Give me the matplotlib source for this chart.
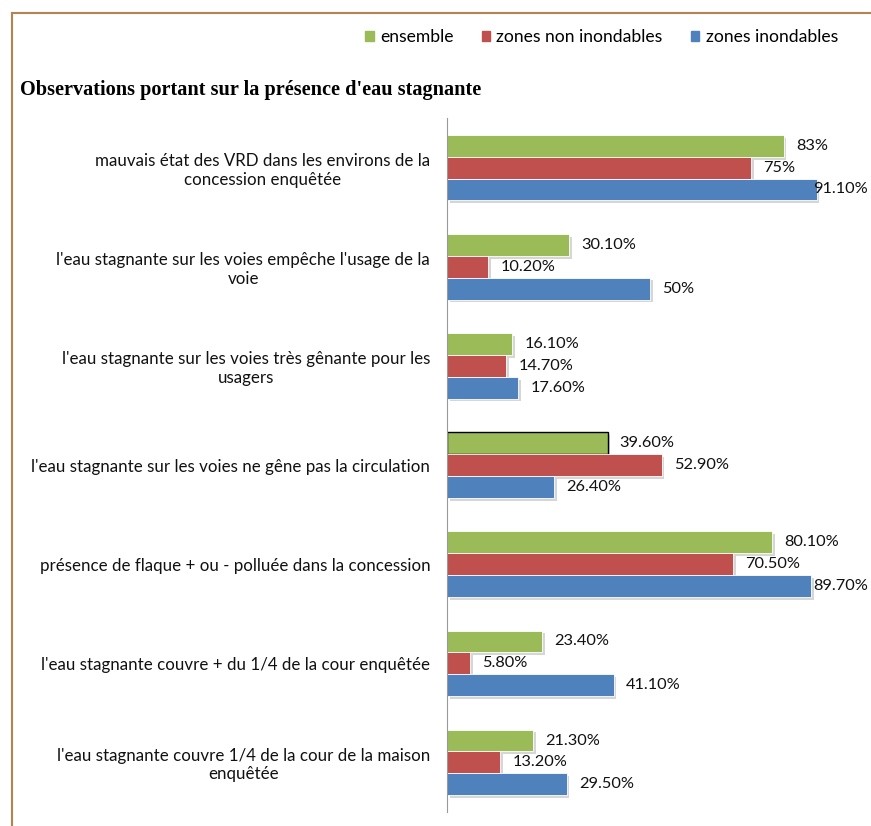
import matplotlib.pyplot as plt
import matplotlib.patheffects as pe
from matplotlib.lines import Line2D
from matplotlib.patches import Patch
import numpy as np

plt.rcParams['font.family'] = ['Lato', 'DejaVu Sans']

# data (percent)
categories = [
    "mauvais état des VRD dans les environs de la\nconcession enquêtée",
    "l'eau stagnante sur les voies empêche l'usage de la\nvoie",
    "l'eau stagnante sur les voies très gênante pour les\nusagers",
    "l'eau stagnante sur les voies ne gêne pas la circulation",
    "présence de flaque + ou - polluée dans la concession",
    "l'eau stagnante couvre + du 1/4 de la cour enquêtée",
    "l'eau stagnante couvre 1/4 de la cour de la maison\nenquêtée",
]
ensemble = [83, 30.1, 16.1, 39.6, 80.1, 23.4, 21.3]
non_inondables = [75, 10.2, 14.7, 52.9, 70.5, 5.8, 13.2]
inondables = [91.1, 50, 17.6, 26.4, 89.7, 41.1, 29.5]

ensemble_lbl = ["83%", "30.10%", "16.10%", "39.60%", "80.10%", "23.40%", "21.30%"]
non_inond_lbl = ["75%", "10.20%", "14.70%", "52.90%", "70.50%", "5.80%", "13.20%"]
inond_lbl = ["91.10%", "50%", "17.60%", "26.40%", "89.70%", "41.10%", "29.50%"]

green = "#9BBB59"
red = "#C0504D"
blue = "#4F81BD"

fig = plt.figure(figsize=(8.71, 8.26), dpi=100)
ax = fig.add_axes([0.513, 0.017, 0.466, 0.84])

y = np.arange(len(categories))
h = 0.22
shadow = [pe.SimplePatchShadow(offset=(2, -2), shadow_rgbFace="#999999", alpha=0.4), pe.Normal()]

series = [
    (ensemble, ensemble_lbl, green, -h),
    (non_inondables, non_inond_lbl, red, 0),
    (inondables, inond_lbl, blue, h),
]
for vals, lbls, col, off in series:
    bars = ax.barh(y + off, vals, height=h, color=col, edgecolor="white", linewidth=0.6)
    for b in bars:
        b.set_path_effects(shadow)
    for yi, v, t in zip(y, vals, lbls):
        ax.text(min(v + 3, 90.2), yi + off, t, va="center", ha="left", fontsize=11.8, color="#111111")

# the selected bar in the original has a dark outline
ax.patches[3].set_edgecolor("black")
ax.patches[3].set_linewidth(1.0)

ax.set_xlim(0, 100)
ax.set_ylim(6.5, -0.5)
ax.set_yticks(y)
ax.set_yticklabels(categories, fontsize=12.2, multialignment="center", color="#111111")
ax.tick_params(axis="y", length=0, pad=12)
ax.set_xticks([])
for s in ["top", "right", "bottom"]:
    ax.spines[s].set_visible(False)
ax.spines["left"].set_color("#999999")

fig.text(0.023, 0.891, "Observations portant sur la présence d'eau stagnante",
         family="Liberation Serif", fontweight="bold", fontsize=14.6, va="center", ha="left")

handles = [Patch(color=green, label="ensemble"),
           Patch(color=red, label="zones non inondables"),
           Patch(color=blue, label="zones inondables")]
fig.legend(handles=handles, loc="center right", bbox_to_anchor=(0.972, 0.955), ncol=3,
           frameon=False, fontsize=12.6, handlelength=0.5, handleheight=0.5,
           handletextpad=0.35, columnspacing=1.6, borderpad=0)

# frame around the chart (cut at right/bottom in the source)
fig.add_artist(Line2D([0.0138, 1.0], [0.984, 0.984], color="#b5834f", lw=1.5))
fig.add_artist(Line2D([0.0138, 0.0138], [0.984, 0.0], color="#b5834f", lw=1.5))

fig.savefig("out.png", dpi=100)
